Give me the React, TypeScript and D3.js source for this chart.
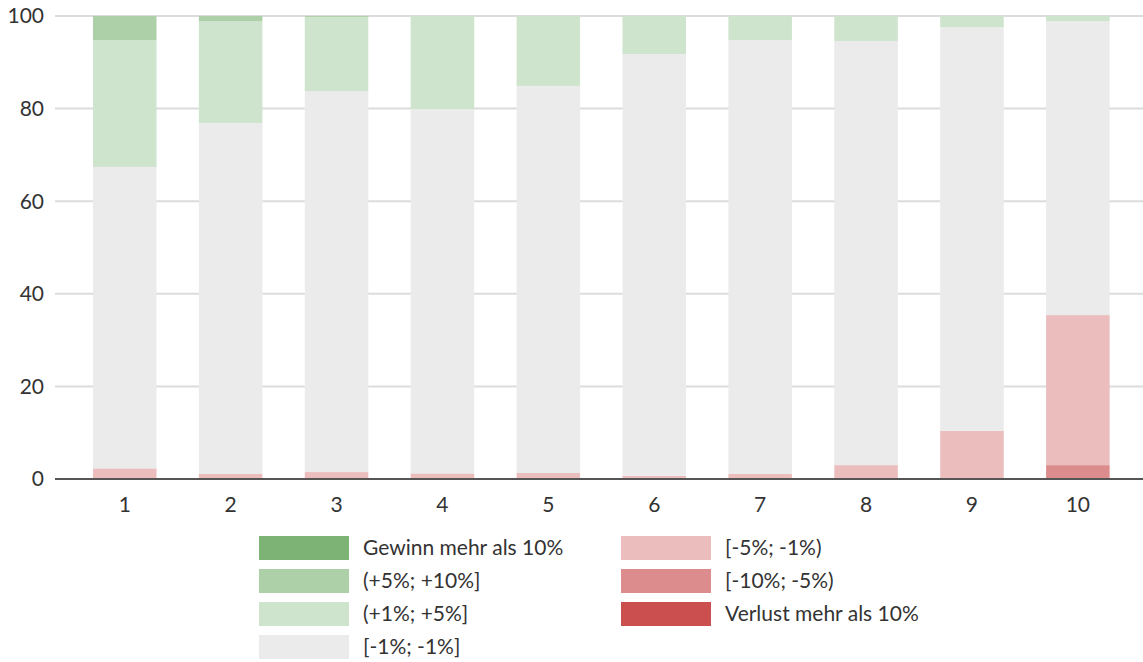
import React from 'react';
import * as d3 from 'd3';

const categories = ['1', '2', '3', '4', '5', '6', '7', '8', '9', '10'];
const seriesKeys = ['l10', 'l5', 'l1', 'n', 'g1', 'g5', 'g10'];
const seriesLabels = {
  g10: 'Gewinn mehr als 10%',
  g5: '(+5%; +10%]',
  g1: '(+1%; +5%]',
  n: '[-1%; -1%]',
  l1: '[-5%; -1%)',
  l5: '[-10%; -5%)',
  l10: 'Verlust mehr als 10%',
};
const seriesColors = {
  g10: '#7db374',
  g5: '#aed0a8',
  g1: '#cee4cc',
  n: '#ebebeb',
  l1: '#ebbdbd',
  l5: '#dc8c8c',
  l10: '#cb4f4f',
};
const g10 = [0, 0, 0, 0, 0, 0, 0, 0, 0, 0];
const g5 = [5.2, 1.1, 0.2, 0, 0, 0, 0, 0, 0, 0];
const g1 = [27.4, 22.0, 16.0, 20.1, 15.1, 8.2, 5.2, 5.4, 2.4, 1.1];
const neutral = [65.1, 75.8, 82.3, 78.7, 83.6, 91.1, 93.7, 91.6, 87.2, 63.5];
const l1 = [2.3, 1.1, 1.5, 1.2, 1.3, 0.7, 1.1, 3.0, 10.4, 32.4];
const l5 = [0, 0, 0, 0, 0, 0, 0, 0, 0, 3.0];
const l10 = [0, 0, 0, 0, 0, 0, 0, 0, 0, 0];
const yTicks = [0, 20, 40, 60, 80, 100];

const legendLeft = ['g10', 'g5', 'g1', 'n'];
const legendRight = ['l1', 'l5', 'l10'];

const font = 'Lato, "Open Sans", sans-serif';
const fs = 21;

export default function App() {
  const width = 1143;
  const height = 662;
  const gridLeft = 55;
  const rows = categories.map((c, i) => ({
    cat: c,
    g10: g10[i], g5: g5[i], g1: g1[i], n: neutral[i], l1: l1[i], l5: l5[i], l10: l10[i],
  }));
  const stacked = d3.stack().keys(seriesKeys)(rows as any);

  const x = d3.scaleBand().domain(categories).range([59.6, 1143]).paddingInner(0.4).paddingOuter(0.315);
  const y = d3.scaleLinear().domain([0, 100]).range([479, 16]);

  const legendItem = (key: string, i: number, lx: number) => (
    <g key={key} transform={`translate(${lx},${536 + i * 33})`}>
      <rect width={90} height={24} fill={seriesColors[key]} />
      <text x={104} y={12} dy="0.35em" fontSize={fs} fill="#333" fontFamily={font}>
        {seriesLabels[key]}
      </text>
    </g>
  );

  return (
    <svg width={width} height={height} style={{ position: 'absolute', left: 0, top: 0, background: '#fff' }}>
      {yTicks.map(t => (
        <g key={t}>
          {t !== 0 && <line x1={gridLeft} x2={width} y1={y(t)} y2={y(t)} stroke="#dcdcdc" strokeWidth={2} />}
          <text x={44} y={y(t)} dy="0.35em" textAnchor="end" fontSize={fs} fill="#333" fontFamily={font}>
            {t}
          </text>
        </g>
      ))}
      {stacked.map(layer => (
        <g key={layer.key} fill={seriesColors[layer.key]}>
          {layer.map((d, i) => (
            d[1] - d[0] > 0 ? (
              <rect key={i} x={x(categories[i])} width={x.bandwidth()} y={y(d[1])} height={y(d[0]) - y(d[1])} />
            ) : null
          ))}
        </g>
      ))}
      <line x1={gridLeft} x2={width} y1={y(0)} y2={y(0)} stroke="#555" strokeWidth={2} />
      {categories.map(c => (
        <text key={c} x={(x(c) || 0) + x.bandwidth() / 2} y={505} dy="0.35em" textAnchor="middle" fontSize={fs} fill="#333" fontFamily={font}>
          {c}
        </text>
      ))}
      {legendLeft.map((k, i) => legendItem(k, i, 259))}
      {legendRight.map((k, i) => legendItem(k, i, 621))}
    </svg>
  );
}
